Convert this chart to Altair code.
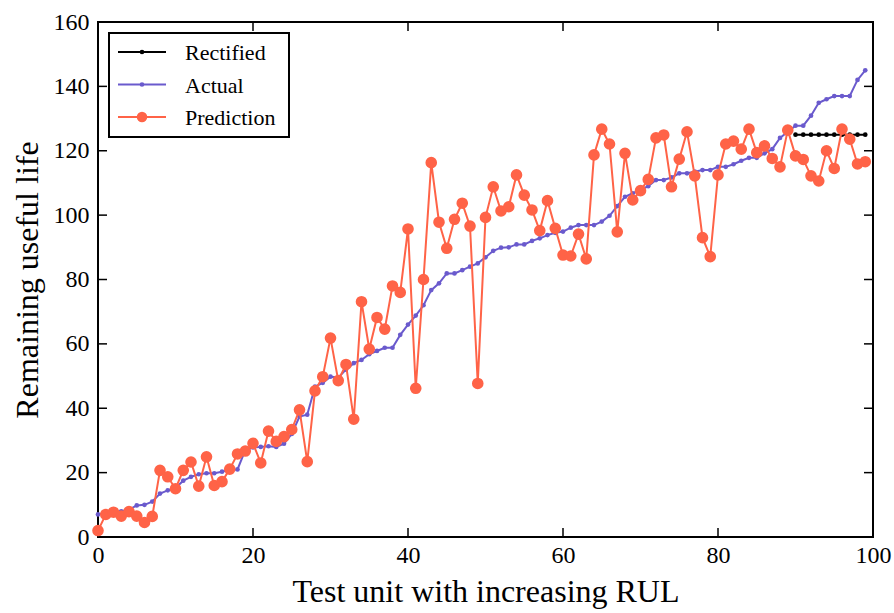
import altair as alt
import pandas as pd

# ---------------- data ----------------
series_names = ["Rectified", "Actual", "Prediction"]
series_colors = ["#000000", "#6A5ACD", "#FF6347"]

units = list(range(100))

actual = [
    7, 7.5, 8, 8, 8.5, 9.8, 10, 11, 13.5, 14.5,
    15.2, 17.5, 18.7, 19.5, 19.8, 19.8, 20.3, 20.9, 21, 27,
    27.8, 28, 28.2, 28, 29, 32, 37.4, 38, 46.7, 47.9,
    49.8, 49.6, 52, 54, 55, 56.8, 57.8, 58.8, 58.8, 62.8,
    66, 68.8, 72, 76.7, 78.8, 81.9, 81.9, 82.9, 84, 85,
    86.9, 88.9, 89.9, 90, 90.9, 90.9, 92, 92.8, 93.8, 94.5,
    94.9, 96.1, 96.9, 96.9, 96.9, 98, 99.8, 102.8, 105.7, 106.8,
    107.8, 109, 110.9, 110.9, 111.7, 113, 113, 113.5, 114, 114,
    115, 115, 115.8, 116.9, 117.8, 117.8, 119.2, 120.5, 124, 125.9,
    127.8, 127.8, 130.9, 134.9, 136, 137, 137, 137, 142, 145,
]

prediction = [
    2, 7, 7.7, 6.5, 7.9, 6.5, 4.5, 6.4, 20.7, 18.7,
    15, 20.7, 23.3, 15.8, 24.9, 16, 17.2, 21.1, 25.8, 26.7,
    29.1, 23, 32.9, 29.7, 31.2, 33.4, 39.5, 23.4, 45.4, 49.8,
    61.8, 48.6, 53.6, 36.6, 73.1, 58.4, 68.2, 64.6, 78, 76,
    95.7, 46.2, 80, 116.3, 97.8, 89.7, 98.7, 103.7, 96.6, 47.7,
    99.3, 108.8, 101.3, 102.6, 112.5, 106.2, 101.6, 95.2, 104.5, 95.9,
    87.6, 87.3, 94.1, 86.4, 118.7, 126.7, 122.1, 94.8, 119.2, 104.7,
    107.6, 111.1, 124, 124.9, 108.8, 117.4, 125.9, 112.2, 93, 87.1,
    112.5, 122.1, 123, 120.5, 126.7, 119.4, 121.5, 117.6, 115, 126.4,
    118.4, 117.3, 112.2, 110.6, 120, 114.5, 126.7, 123.6, 115.9, 116.6,
]

rectified_units = [90, 91, 92, 93, 94, 95, 96, 97, 98, 99]
rectified = [125, 125, 125, 125, 125, 125, 125, 125, 125, 125]

x_ticks = [0, 20, 40, 60, 80, 100]
y_ticks = [0, 20, 40, 60, 80, 100, 120, 140, 160]

# ---------------- layout / style ----------------
W, H = 775, 515
FONT = "Liberation Serif"
TICK_LEN = 9

x_enc = alt.X(
    "x:Q",
    scale=alt.Scale(domain=[0, 100], nice=False, zero=False),
    axis=alt.Axis(
        values=x_ticks, title="Test unit with increasing RUL",
        labelFont=FONT, labelFontSize=24, labelColor="black",
        labelPadding=6, labelFlush=False, labelOverlap=False,
        titleFont=FONT, titleFontSize=32, titleFontWeight="normal",
        titleColor="black", titleBaseline="alphabetic", titleY=64,
        ticks=False, tickSize=0, domain=False, grid=False,
    ),
)
y_enc = alt.Y(
    "y:Q",
    scale=alt.Scale(domain=[0, 160], nice=False, zero=False),
    axis=alt.Axis(
        values=y_ticks, title="Remaining useful life",
        labelFont=FONT, labelFontSize=24, labelColor="black",
        labelPadding=9, labelFlush=False, labelOverlap=False,
        titleFont=FONT, titleFontSize=32, titleFontWeight="normal",
        titleColor="black", titleAngle=270, titleBaseline="alphabetic",
        titleAlign="center", titleX=-61, titleY=H / 2,
        ticks=False, tickSize=0, domain=False, grid=False,
    ),
)

df_act = pd.DataFrame({"x": units, "y": actual})
df_pred = pd.DataFrame({"x": units, "y": prediction})
df_rect = pd.DataFrame({"x": rectified_units, "y": rectified})
df_xt = pd.DataFrame({"x": x_ticks})
df_yt = pd.DataFrame({"y": y_ticks})

# inward ticks on all four sides
tick_b = alt.Chart(df_xt).mark_rule(color="black", strokeWidth=1.5).encode(
    x=x_enc, y=alt.value(H), y2=alt.value(H - TICK_LEN))
tick_t = alt.Chart(df_xt).mark_rule(color="black", strokeWidth=1.5).encode(
    x=x_enc, y=alt.value(0), y2=alt.value(TICK_LEN))
tick_l = alt.Chart(df_yt).mark_rule(color="black", strokeWidth=1.5).encode(
    y=y_enc, x=alt.value(0), x2=alt.value(TICK_LEN))
tick_r = alt.Chart(df_yt).mark_rule(color="black", strokeWidth=1.5).encode(
    y=y_enc, x=alt.value(W), x2=alt.value(W - TICK_LEN))

rect_line = alt.Chart(df_rect).mark_line(
    color=series_colors[0], strokeWidth=2,
    point=alt.OverlayMarkDef(filled=True, size=22, color=series_colors[0], opacity=1),
).encode(x=x_enc, y=y_enc)

act_line = alt.Chart(df_act).mark_line(
    color=series_colors[1], strokeWidth=2,
    point=alt.OverlayMarkDef(filled=True, size=22, color=series_colors[1], opacity=1),
).encode(x=x_enc, y=y_enc)

pred_line = alt.Chart(df_pred).mark_line(
    color=series_colors[2], strokeWidth=2,
    point=alt.OverlayMarkDef(filled=True, size=135, color=series_colors[2], opacity=1),
).encode(x=x_enc, y=y_enc)

# ---------------- legend (drawn manually) ----------------
legend_layers = []
box = alt.Chart(pd.DataFrame({"k": [0]})).mark_rect(
    fill="white", stroke="black", strokeWidth=2
).encode(x=alt.value(11), x2=alt.value(191), y=alt.value(11), y2=alt.value(115))
legend_layers.append(box)

marker_sizes = [22, 22, 110]
for k, (name, col) in enumerate(zip(series_names, series_colors)):
    yk = 30 + 32.5 * k
    one = pd.DataFrame({"name": [name]})
    legend_layers.append(
        alt.Chart(one).mark_rule(color=col, strokeWidth=2).encode(
            x=alt.value(20), x2=alt.value(68), y=alt.value(yk)))
    legend_layers.append(
        alt.Chart(one).mark_circle(color=col, size=marker_sizes[k], opacity=1).encode(
            x=alt.value(44), y=alt.value(yk)))
    legend_layers.append(
        alt.Chart(one).mark_text(
            align="left", baseline="middle", font=FONT, fontSize=22, color="black"
        ).encode(x=alt.value(87), y=alt.value(yk + 1), text="name:N"))

chart = alt.layer(
    tick_b, tick_t, tick_l, tick_r,
    rect_line, act_line, pred_line,
    *legend_layers,
).properties(
    width=W, height=H,
    autosize=alt.AutoSizeParams(type="none"),
    padding={"left": 98, "top": 22, "right": 21, "bottom": 76},
    background="white",
).configure_view(
    stroke="black", strokeWidth=2
)

chart.save("out.html", embed_options={"renderer": "svg", "actions": False})
